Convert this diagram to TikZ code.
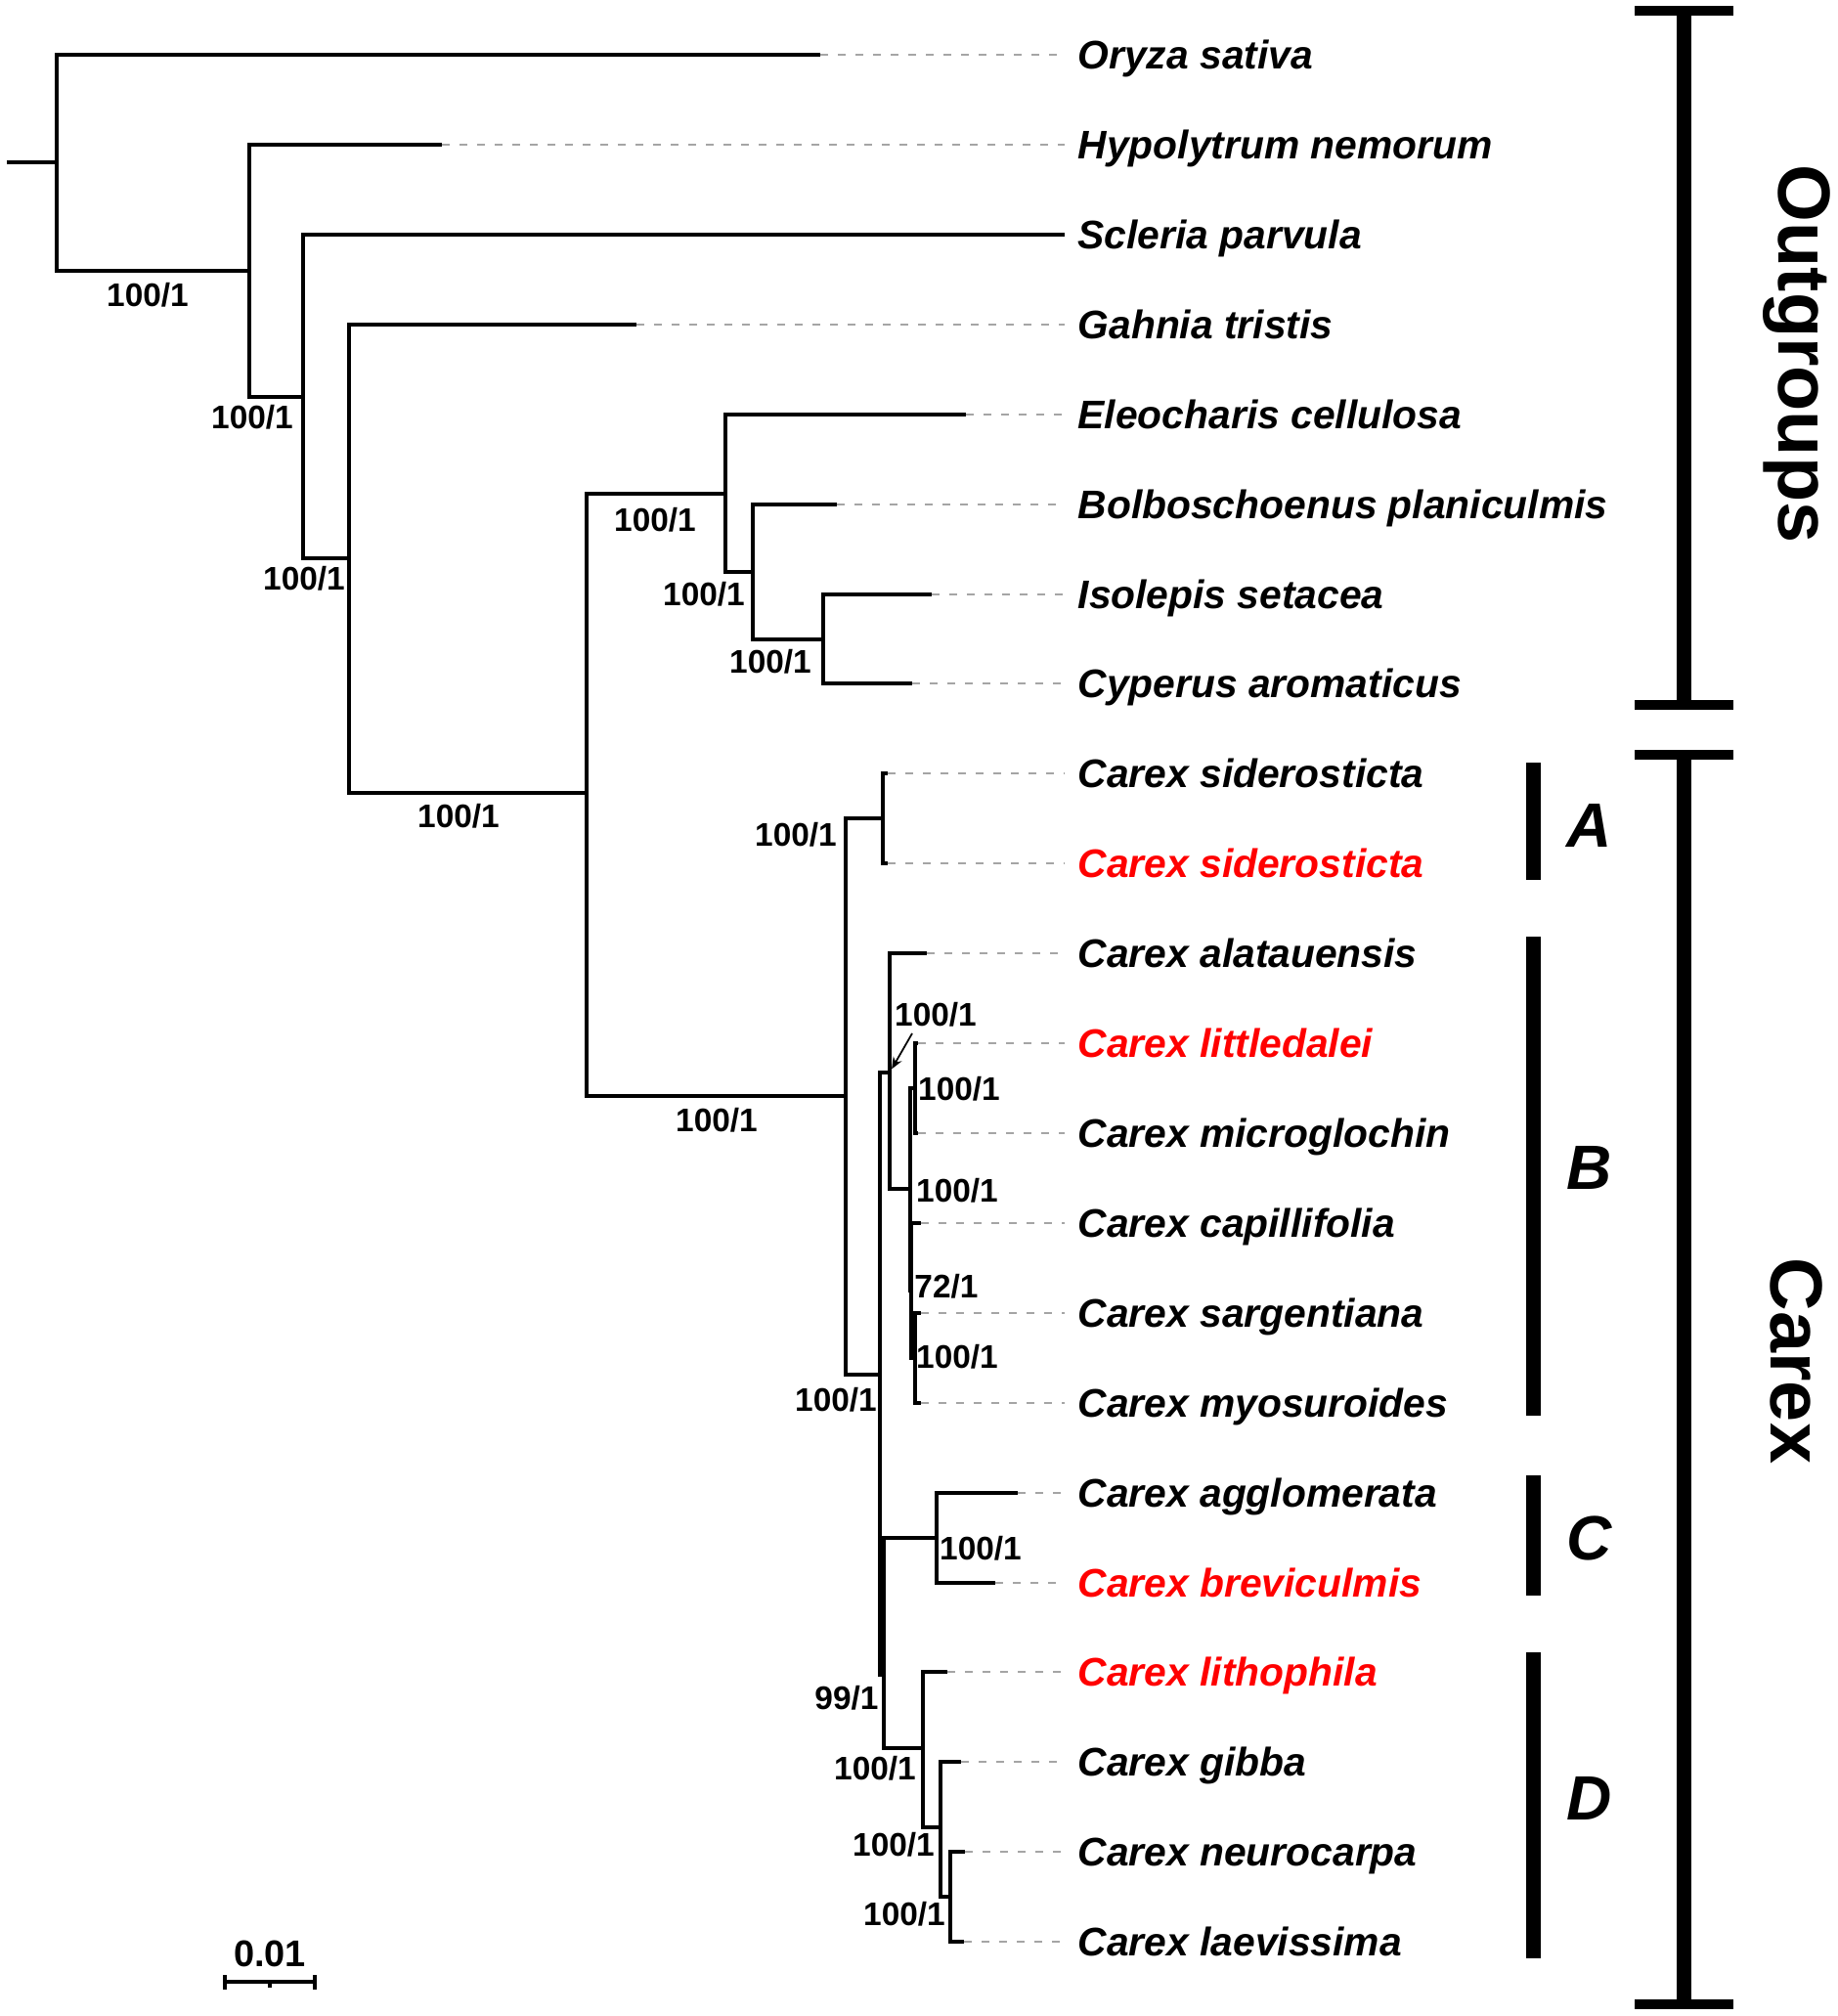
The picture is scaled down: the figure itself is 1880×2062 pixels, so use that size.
\documentclass[tikz,border=0pt]{standalone}
\usepackage{fontspec}
\setmainfont{Liberation Sans}
\usetikzlibrary{arrows.meta}
\definecolor{cred}{RGB}{255,0,0}
\definecolor{lgray}{RGB}{165,165,165}
\begin{document}
\begin{tikzpicture}[x=0.01cm,y=-0.01cm,
 br/.style={line width=1.05pt, line join=miter},
 dl/.style={draw=lgray, line width=0.8pt, dash pattern=on 0.08cm off 0.1cm, shorten >=0.13cm},
 sp/.style={inner sep=0pt, anchor=base west, font=\fontsize{11.6}{13}\selectfont\bfseries\itshape},
 spr/.style={sp, text=cred},
 sv/.style={inner sep=0pt, font=\fontsize{9.5}{11}\selectfont\bfseries},
 cbar/.style={line width=0.15cm},
 capl/.style={line width=0.1cm},
 cl/.style={inner sep=0pt, font=\fontsize{18.2}{20}\selectfont\bfseries\itshape},
 gl/.style={inner sep=0pt, rotate=-90, font=\fontsize{21.5}{24}\selectfont\bfseries}]
\useasboundingbox (0,0) rectangle (1880,2062);

% ---------- tips ----------
\coordinate (t1) at (839,56);
\coordinate (t2) at (452,148);
\coordinate (t3) at (1089,240);
\coordinate (t4) at (651,332);
\coordinate (t5) at (988,424);
\coordinate (t6) at (856,516);
\coordinate (t7) at (953,608);
\coordinate (t8) at (933,699);
\coordinate (t9) at (908,791);
\coordinate (t10) at (908,883);
\coordinate (t11) at (948,975);
\coordinate (t12) at (939,1067);
\coordinate (t13) at (939,1159);
\coordinate (t14) at (942,1251);
\coordinate (t15) at (942,1343);
\coordinate (t16) at (942,1435);
\coordinate (t17) at (1041,1527);
\coordinate (t18) at (1018,1619);
\coordinate (t19) at (969,1710);
\coordinate (t20) at (983,1802);
\coordinate (t21) at (987,1894);
\coordinate (t22) at (986,1986);

% ---------- internal nodes ----------
\coordinate (n0) at (7,166);
\coordinate (n1) at (58,166);
\coordinate (n2) at (255,277);
\coordinate (n3) at (310,406);
\coordinate (n4) at (357,571);
\coordinate (n5) at (600,811);
\coordinate (n6) at (742,505);
\coordinate (n7) at (770,585);
\coordinate (n8) at (842,654);
\coordinate (n9) at (865,1121);
\coordinate (n10) at (903,837);
\coordinate (n11) at (900,1406);
\coordinate (n12) at (910,1097);
\coordinate (n13) at (931,1216);
\coordinate (n14) at (936,1113);
\coordinate (n15) at (932,1320);
\coordinate (n16) at (936,1389);
\coordinate (n17) at (904,1713);
\coordinate (n18) at (958,1573);
\coordinate (n19) at (944,1788);
\coordinate (n20) at (962,1869);
\coordinate (n21) at (972,1940);

% ---------- branches ----------
\draw[br] (n0) -- (n1);
\draw[br] (n1) |- (t1);  \draw[br] (n1) |- (n2);
\draw[br] (n2) |- (t2);  \draw[br] (n2) |- (n3);
\draw[br] (n3) |- (t3);  \draw[br] (n3) |- (n4);
\draw[br] (n4) |- (t4);  \draw[br] (n4) |- (n5);
\draw[br] (n5) |- (n6);  \draw[br] (n5) |- (n9);
\draw[br] (n6) |- (t5);  \draw[br] (n6) |- (n7);
\draw[br] (n7) |- (t6);  \draw[br] (n7) |- (n8);
\draw[br] (n8) |- (t7);  \draw[br] (n8) |- (t8);
\draw[br] (n9) |- (n10); \draw[br] (n9) |- (n11);
\draw[br] (n10) |- (t9); \draw[br] (n10) |- (t10);
\draw[br] (n11) |- (n12); \draw[br] (n11) |- (n17);
\draw[br] (n12) |- (t11); \draw[br] (n12) |- (n13);
\draw[br] (n13) |- (n14); \draw[br] (n13) |- (n15);
\draw[br] (n14) |- (t12); \draw[br] (n14) |- (t13);
\draw[br] (n15) |- (t14); \draw[br] (n15) |- (n16);
\draw[br] (n16) |- (t15); \draw[br] (n16) |- (t16);
\draw[br] (n17) |- (n18); \draw[br] (n17) |- (n19);
\draw[br] (n18) |- (t17); \draw[br] (n18) |- (t18);
\draw[br] (n19) |- (t19); \draw[br] (n19) |- (n20);
\draw[br] (n20) |- (t20); \draw[br] (n20) |- (n21);
\draw[br] (n21) |- (t21); \draw[br] (n21) |- (t22);

% ---------- species labels ----------
\node[sp]  (l1)  at (1102,70)   {Oryza sativa};
\node[sp]  (l2)  at (1102,162)  {Hypolytrum nemorum};
\node[sp]  (l3)  at (1102,254)  {Scleria parvula};
\node[sp]  (l4)  at (1102,346)  {Gahnia tristis};
\node[sp]  (l5)  at (1102,438)  {Eleocharis cellulosa};
\node[sp]  (l6)  at (1102,530)  {Bolboschoenus planiculmis};
\node[sp]  (l7)  at (1102,622)  {Isolepis setacea};
\node[sp]  (l8)  at (1102,713)  {Cyperus aromaticus};
\node[sp]  (l9)  at (1102,805)  {Carex siderosticta};
\node[spr] (l10) at (1102,897)  {Carex siderosticta};
\node[sp]  (l11) at (1102,989)  {Carex alatauensis};
\node[spr] (l12) at (1102,1081) {Carex littledalei};
\node[sp]  (l13) at (1102,1173) {Carex microglochin};
\node[sp]  (l14) at (1102,1265) {Carex capillifolia};
\node[sp]  (l15) at (1102,1357) {Carex sargentiana};
\node[sp]  (l16) at (1102,1449) {Carex myosuroides};
\node[sp]  (l17) at (1102,1541) {Carex agglomerata};
\node[spr] (l18) at (1102,1633) {Carex breviculmis};
\node[spr] (l19) at (1102,1724) {Carex lithophila};
\node[sp]  (l20) at (1102,1816) {Carex gibba};
\node[sp]  (l21) at (1102,1908) {Carex neurocarpa};
\node[sp]  (l22) at (1102,2000) {Carex laevissima};

% ---------- dashed leaders ----------
\foreach \i in {1,2,4,5,6,7,8,9,10,11,12,13,14,15,16,17,18,19,20,21,22}
  \draw[dl] (t\i) -- (t\i -| l\i.west);

% ---------- support values ----------
\node[sv] (s2)  at (151,302)  {100/1};
\node[sv] (s3)  at (258,427)  {100/1};
\node[sv] (s4)  at (311,592)  {100/1};
\node[sv] (s5)  at (469,835)  {100/1};
\node[sv] (s6)  at (670,532)  {100/1};
\node[sv] (s7)  at (720,608)  {100/1};
\node[sv] (s8)  at (788,677)  {100/1};
\node[sv] (s9)  at (733,1146) {100/1};
\node[sv] (s10) at (814,854)  {100/1};
\node[sv] (s11) at (855,1432) {100/1};
\node[sv] (s12) at (957,1038) {100/1};
\node[sv] (s14) at (981,1114) {100/1};
\node[sv] (s13) at (979,1218) {100/1};
\node[sv] (s15) at (968,1316) {72/1};
\node[sv] (s16) at (979,1388) {100/1};
\node[sv] (s18) at (1003,1584) {100/1};
\node[sv] (s17) at (866,1737) {99/1};
\node[sv] (s19) at (895,1809) {100/1};
\node[sv] (s20) at (914,1887) {100/1};
\node[sv] (s21) at (925,1958) {100/1};

\coordinate (a12) at (933,1057);
\draw[line width=0.5pt, -{Stealth[length=3.4pt,width=2.8pt]}, shorten >=1.2pt] (a12) -- (n12);

% ---------- clade bars ----------
\draw[cbar] (1568,780) -- (1568,900);
\draw[cbar] (1568,958) -- (1568,1448);
\draw[cbar] (1568,1509) -- (1568,1632);
\draw[cbar] (1568,1690) -- (1568,2003);
\node[cl] (cA) at (1626,844)  {A};
\node[cl] (cB) at (1626,1194) {B};
\node[cl] (cC) at (1626,1573) {C};
\node[cl] (cD) at (1626,1839) {D};

% ---------- group brackets ----------
\draw[cbar] (1722.5,11) -- (1722.5,721);
\draw[capl] (1672,11) -- (1773,11);
\draw[capl] (1672,721) -- (1773,721);
\draw[cbar] (1722.5,772) -- (1722.5,2050);
\draw[capl] (1672,772) -- (1773,772);
\draw[capl] (1672,2050) -- (1773,2050);
\node[gl] (gO) at (1838,362)  {Outgroups};
\node[gl] (gC) at (1838,1392) {Carex};

% ---------- scale bar ----------
\draw[line width=1pt] (230,2027) -- (322,2027);
\draw[line width=1pt] (230,2020) -- (230,2035);
\draw[line width=1pt] (322,2020) -- (322,2035);
\draw[line width=1pt] (276,2027) -- (276,2033);
\node[inner sep=0pt, font=\fontsize{10.8}{12}\selectfont\bfseries] (sc) at (276,1998) {0.01};
\end{tikzpicture}
\end{document}
